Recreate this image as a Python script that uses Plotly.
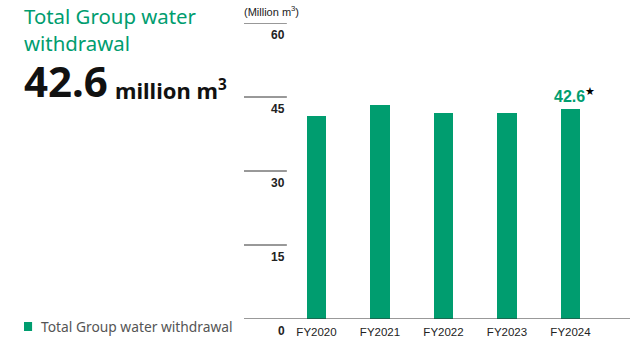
import plotly.graph_objects as go

# Water withdrawal by fiscal year (million m3)
years = ["FY2020", "FY2021", "FY2022", "FY2023", "FY2024"]
withdrawal = [41.1, 43.4, 41.8, 41.8, 42.6]
y_ticks = [0, 15, 30, 45, 60]
series_name = "Total Group water withdrawal"
headline_value = "42.6"

GREEN = "#009d6f"
TEXT = "#222222"
NARROW = "Liberation Sans Narrow, Arial Narrow, Liberation Sans, Arial, sans-serif"
HUMAN = "Noto Sans, Open Sans, sans-serif"

fig = go.Figure()
fig.add_trace(go.Bar(
    x=years, y=withdrawal, name=series_name,
    marker=dict(color=GREEN, line=dict(width=0)),
    width=0.3, showlegend=False,
))

# short tick rules at each y step, with label beneath
tick_end = 0.111
shapes = []
annotations = []
for v in y_ticks:
    if v > 0:
        shapes.append(dict(type="line", xref="paper", yref="y", x0=0, x1=tick_end,
                           y0=v, y1=v, line=dict(color="#333333", width=1)))
    annotations.append(dict(xref="paper", yref="y", x=tick_end, y=v, text=f"<b>{v}</b>",
                            showarrow=False, xanchor="right", yanchor="top", yshift=-3,
                            font=dict(family=NARROW, size=12, color=TEXT)))
# baseline
shapes.append(dict(type="line", xref="paper", yref="y", x0=0, x1=1, y0=0, y1=0,
                   line=dict(color="#333333", width=1)))

# unit label
annotations.append(dict(xref="paper", yref="paper", x=-0.005, y=1.0, yshift=12,
                        text="(Million m<sup>3</sup>)", showarrow=False,
                        xanchor="left", yanchor="middle",
                        font=dict(family=NARROW, size=11, color=TEXT)))

# latest-year value label
annotations.append(dict(x=years[-1], y=withdrawal[-1], xref="x", yref="y",
                        text=f"<b>{withdrawal[-1]}</b><span style='color:#000'><sup>★</sup></span>",
                        showarrow=False, yanchor="bottom", xshift=4, yshift=2,
                        font=dict(family=NARROW, size=16, color=GREEN)))

# headline block on the left
annotations.append(dict(xref="paper", yref="paper", x=-0.574, y=1.077, text="Total Group water<br>withdrawal",
                        showarrow=False, xanchor="left", yanchor="top", align="left",
                        font=dict(family=HUMAN, size=20.4, color=GREEN)))
annotations.append(dict(xref="paper", yref="paper", x=-0.575, y=0.91,
                        text=f"<b>{headline_value}</b>",
                        showarrow=False, xanchor="left", yanchor="top", align="left",
                        font=dict(family=HUMAN, size=42, color="#111111")))
annotations.append(dict(xref="paper", yref="paper", x=-0.339, y=0.835,
                        text="<b>million m<sup>3</sup></b>",
                        showarrow=False, xanchor="left", yanchor="top", align="left",
                        font=dict(family=HUMAN, size=22, color="#111111")))

# legend swatch and label
shapes.append(dict(type="rect", xref="paper", yref="paper", x0=-0.570, x1=-0.549,
                   y0=-0.0405, y1=-0.0101, fillcolor=GREEN, line=dict(width=0)))
annotations.append(dict(xref="paper", yref="paper", x=-0.531, y=-0.027, text=series_name,
                        showarrow=False, xanchor="left", yanchor="middle",
                        font=dict(family=HUMAN, size=13.8, color="#555555")))

fig.update_layout(
    width=639, height=340,
    margin=dict(l=244, r=9, t=23, b=21, pad=0, autoexpand=False),
    plot_bgcolor="white", paper_bgcolor="white",
    shapes=shapes, annotations=annotations,
    xaxis=dict(range=[-1.142, 4.937], showgrid=False, showline=False, zeroline=False,
               automargin=False, ticks="",
               tickfont=dict(family=NARROW, size=11.5, color=TEXT), ticklabelstandoff=4),
    yaxis=dict(range=[0, 60], showgrid=False, showline=False, zeroline=False,
               automargin=False, showticklabels=False, ticks=""),
    showlegend=False,
    bargap=0,
)

fig.write_html("out.html")
